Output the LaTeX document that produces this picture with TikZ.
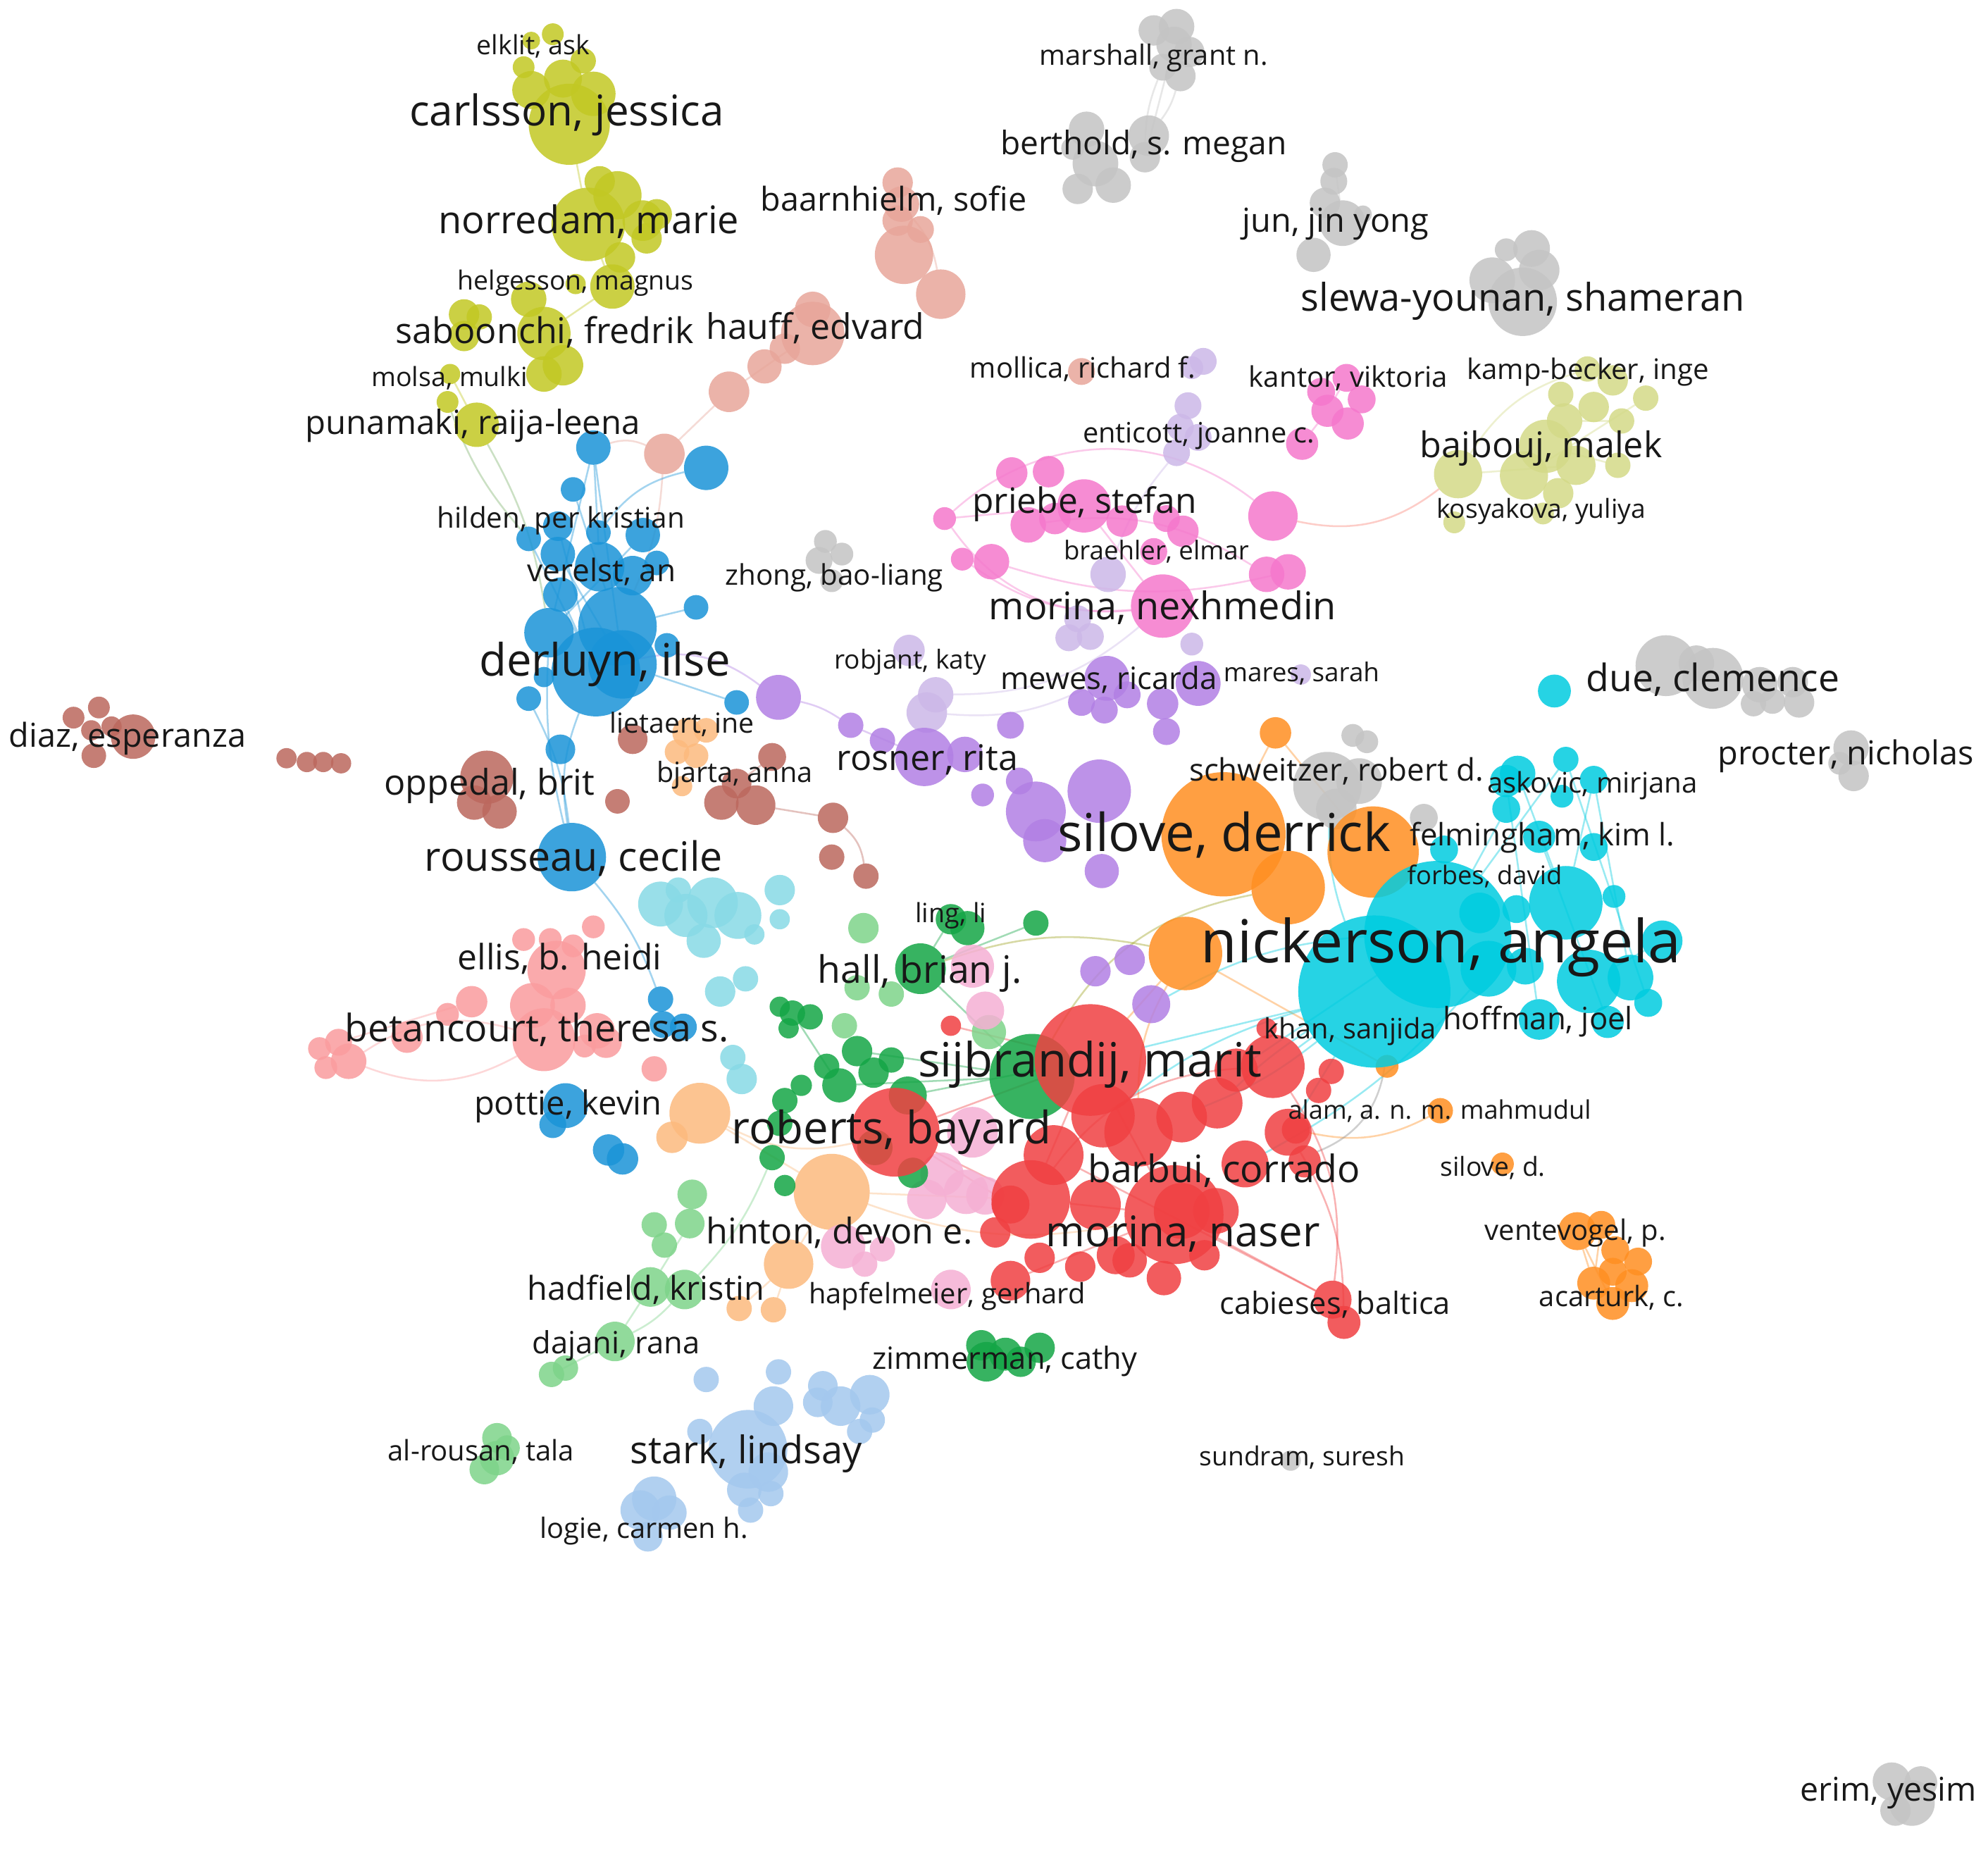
\documentclass[tikz,border=0pt]{standalone}
\usepackage{fontspec}
\setmainfont{Open Sans}
\pgfdeclarelayer{bg}
\pgfsetlayers{bg,main}
\definecolor{cRed}{RGB}{240,64,66}
\definecolor{cGreen}{RGB}{20,166,70}
\definecolor{cBlue}{RGB}{26,148,216}
\definecolor{cYel}{RGB}{194,200,36}
\definecolor{cPur}{RGB}{178,128,228}
\definecolor{cCyan}{RGB}{0,204,224}
\definecolor{cOra}{RGB}{255,143,34}
\definecolor{cBrown}{RGB}{188,104,94}
\definecolor{cPink}{RGB}{245,120,204}
\definecolor{cSalm}{RGB}{250,156,158}
\definecolor{cPeach}{RGB}{252,186,126}
\definecolor{cLGreen}{RGB}{126,212,138}
\definecolor{cLBlue}{RGB}{164,200,238}
\definecolor{cLCyan}{RGB}{136,218,230}
\definecolor{cLav}{RGB}{204,184,232}
\definecolor{cBaar}{RGB}{232,166,154}
\definecolor{cLPink}{RGB}{245,176,212}
\definecolor{cPYel}{RGB}{212,218,136}
\definecolor{cGray}{RGB}{196,196,196}
\definecolor{txt}{RGB}{24,24,24}
\newcommand\labtext[2]{%
  \setbox0\hbox{\fontsize{10pt}{12pt}\selectfont #2}%
  \pgfmathsetmacro\labF{10*#1/\the\wd0}%
  \raisebox{-0.28\dimexpr\labF pt\relax}{\fontsize{\labF pt}{\labF pt}\selectfont #2}}
\newcommand\lab[5]{%
  \node[lbl, anchor=base] (#1) at (#2,#3) {\labtext{#4}{#5}};}
\tikzset{
  bub/.style={circle, inner sep=0pt, outer sep=0pt, draw=none, fill opacity=0.85},
  lbl/.style={inner sep=0pt, text=txt},
  lnk/.style={line width=1.4pt, draw opacity=0.4}
}
\begin{document}
\begin{tikzpicture}[x=1pt,y=-1pt]
\useasboundingbox (0,0) rectangle (1568,1459);
\begin{pgfonlayer}{bg}
\fill[white] (0,0) rectangle (1568,1459);
\end{pgfonlayer}

% ---------------- bubbles ----------------
\foreach \n/\x/\y/\r in {Y1/436/27/8.6,Y2/419/32/7,Y3/460/48/10,Y4/413/53/8.6,Y5/444/62/15,Y6/419/71/15,Y7/468/74/17.5,Y8/449/98/32,Y9/473/143/12,Y10/487/154/19,Y11/464/177/29,Y12/507/174/16,Y13/518/169/12,Y14/510/188/12,Y15/489/203/12,Y16/483/226/17.5,Y17/454/224/8,Y18/417/236/14,Y19/366/248/12,Y20/378/250/10,Y21/366/265/12,Y22/429/263/21,Y23/444/288/16,Y24/429/295/14,Y25/355/295/8,Y26/353/317/8.6,Y27/376/335/17.5}
  \node[bub, fill=cYel, minimum size={2*\r*1pt}] (\n) at (\x,\y) {};
\foreach \n/\x/\y/\r in {S1/708/144/12,S2/711/161/14,S3/708/174/12,S4/726/181/10.6,S5/713/201/23,S6/742/232/19.5,S7/641/244/14,S8/641/263/25,S9/619/275/12,S10/603/289/13.5,S11/575/309/16,S12/524/358/16,S13/853/293/10.6}
  \node[bub, fill=cBaar, minimum size={2*\r*1pt}] (\n) at (\x,\y) {};
\foreach \n/\x/\y/\r in {G1/910/24/12,G2/928/21/14,G3/926/35/14,G4/938/41/12,G5/917/53/10.6,G6/931/60/12,G7/857/102/14,G8/906/107/16,G9/846/117/9,G10/864/129/18,G11/878/146/14,G12/850/149/12,G13/903/124/12,G14/1053/130/10,G15/1052/143/10.6,G16/1045/160/12,G17/1059/176/18,G18/1036/201/13.5,G19/1075/169/7,G20/1208/196/14.5,G21/1188/197/9,G22/1214/213/16,G23/1177/221/18,G24/1201/238/27,G25/651/427/9,G26/664/437/9,G27/646/442/10.6,G28/656/458/9,G29/1314/525/24,G30/1351/535/24,G31/1338/523/14,G32/1388/540/14,G33/1414/538/12,G34/1419/554/12,G35/1383/555/10,G36/1398/553/10,G37/1460/590/14,G38/1462/612/12,G39/1451/602/9,G40/1067/580/9,G41/1078/585/9,G42/1047/620/27,G43/1072/616/18,G44/1054/638/16,G45/1123/645/11,G46/1018/1152/8,G47/1492/1405/15,G48/1508/1422/18,G49/1515/1406/13,G50/1495/1428/12}
  \node[bub, fill=cGray, minimum size={2*\r*1pt}] (\n) at (\x,\y) {};
\foreach \n/\x/\y/\r in {K1/1042/309/11,K2/1062/298/11,K3/1074/315/11,K4/1047/324/12.7,K5/1063/334/12.7,K6/1027/350/12.7,P1/798/373/12.4,P2/827/372/12.4,P3/855/399/21,P4/811/414/14,P5/832/409/12.4,P6/745/409/9,P7/759/441/9,P8/782/443/14,P9/885/411/12.4,P10/920/409/10.6,P11/933/419/12.4,P12/910/435/10.6,P13/1004/407/19.5,P14/999/453/14,P15/1016/451/14,P16/917/478/25}
  \node[bub, fill=cPink, minimum size={2*\r*1pt}] (\n) at (\x,\y) {};
\foreach \n/\x/\y/\r in {L1/949/285/10.6,L2/940/290/9,L3/937/320/10.6,L4/931/337/10.6,L5/945/345/10.6,L6/928/357/10.6,L7/874/453/14,L8/850/488/10.6,L9/843/503/10.6,L10/860/502/10.6,L11/940/508/9,L12/717/513/12.4,L13/738/548/14,L14/731/562/16,L15/1026/532/8}
  \node[bub, fill=cLav, minimum size={2*\r*1pt}] (\n) at (\x,\y) {};
\foreach \n/\x/\y/\r in {U1/873/535/17.7,U2/853/554/10.6,U3/871/560/10.6,U4/889/548/10.6,U5/945/539/17.7,U6/917/555/12.4,U7/920/577/10.6,U8/797/572/10.6,U9/614/550/17.7,U10/671/572/10,U11/696/584/10,U12/729/597/23,U13/761/595/14,U14/867/624/25,U15/804/616/10.6,U16/775/627/9,U17/817/640/23.6,U18/824/663/17,U19/869/687/13.5,U20/864/766/12,U21/891/757/12,U22/908/792/15}
  \node[bub, fill=cPur, minimum size={2*\r*1pt}] (\n) at (\x,\y) {};
\foreach \n/\x/\y/\r in {B1/1252/291/10,B2/1272/300/12,B3/1231/311/10,B4/1257/321/12,B5/1298/314/10,B6/1279/332/10,B7/1234/332/14,B8/1219/352/21,B9/1150/374/19,B10/1202/375/19,B11/1243/367/15.5,B12/1276/367/10,B13/1229/389/12,B14/1147/412/8.6,B15/1217/405/8.6}
  \node[bub, fill=cPYel, minimum size={2*\r*1pt}] (\n) at (\x,\y) {};
\foreach \n/\x/\y/\r in {D1/468/353/13.6,D2/557/369/17.5,D3/452/386/9.7,D4/417/425/9.7,D5/440/415/11.7,D6/472/420/9.7,D7/507/422/13.6,D8/440/437/13.6,D9/473/447/19.5,D10/499/454/15.6,D11/518/444/9.7,D12/442/469/13.6,D13/549/479/9.7,D14/433/499/19.5,D15/487/494/31,D16/491/524/27,D17/470/530/35,D18/526/509/9.7,D19/417/551/9.7,D20/581/554/9.7,D21/442/591/11.7,D22/451/676/27,D23/429/534/8,D25/521/788/10,D26/523/808/10.6,D27/539/810/10.6,D28/446/872/17.7,D29/436/887/10.6,D30/480/907/12.4,D31/491/914/12.4}
  \node[bub, fill=cBlue, minimum size={2*\r*1pt}] (\n) at (\x,\y) {};
\foreach \n/\x/\y/\r in {R1/78/558/8.6,R2/58/566/8.6,R3/72/576/8,R4/105/581/17.5,R5/74/596/9.7,R6/88/573/8,R7/226/598/8,R8/242/601/8,R9/255/601/8,R10/269/602/8,R11/384/613/21,R12/374/633/13.6,R13/394/640/13.6,R14/487/632/9.7,R15/499/583/11.7,R16/581/618/11.7,R17/569/633/13.6,R18/596/635/15.6,R19/609/597/11,R22/657/645/12,R23/656/676/10,R24/683/691/10}
  \node[bub, fill=cBrown, minimum size={2*\r*1pt}] (\n) at (\x,\y) {};
\foreach \n/\x/\y/\r in {O1/542/578/11.7,O2/557/576/9.7,O3/534/593/9.7,O4/549/596/9.7,O5/538/620/8,O6/552/878/24,O7/530/897/12.4,O8/656/940/30,O9/622/997/19.5,O10/583/1032/10,O11/610/1033/10}
  \node[bub, fill=cPeach, minimum size={2*\r*1pt}] (\n) at (\x,\y) {};
\foreach \n/\x/\y/\r in {C1/562/712/20,C2/541/722/17,C3/582/722/18.5,C4/615/702/12,C5/615/725/8,C6/595/737/8,C7/555/742/13.5,C8/535/702/10,C9/588/772/10,C10/568/782/12,C11/578/834/10,C12/585/851/12,C13/521/713/17.7}
  \node[bub, fill=cLCyan, minimum size={2*\r*1pt}] (\n) at (\x,\y) {};
\foreach \n/\x/\y/\r in {E1/468/731/9,E2/413/741/9,E3/434/741/9,E4/452/746/9,E5/439/765/23,E6/372/790/12.4,E7/353/800/9,E8/420/793/17.7,E9/448/793/14,E10/429/820/24.8,E11/471/813/14,E12/461/825/9,E13/478/822/12.4,E14/321/818/12.4,E15/267/822/10.6,E16/252/827/9,E17/257/842/9,E18/275/837/14,E19/516/843/10}
  \node[bub, fill=cSalm, minimum size={2*\r*1pt}] (\n) at (\x,\y) {};
\foreach \n/\x/\y/\r in {M1/681/732/12,M2/676/779/10,M3/703/784/10,M4/666/809/10,M5/780/814/13.5,M6/546/942/11.7,M7/544/965/11.7,M8/516/966/10,M9/524/982/10,M10/513/1015/15.6,M11/540/1017/15.6,M12/485/1058/15.6,M13/435/1084/10,M14/446/1079/10,M15/392/1134/11.7,M16/392/1150/13.6,M17/382/1159/11.7,M18/400/1142/10}
  \node[bub, fill=cLGreen, minimum size={2*\r*1pt}] (\n) at (\x,\y) {};
\foreach \n/\x/\y/\r in {A1/557/1088/10,A2/614/1082/10,A3/610/1109/15.6,A4/649/1093/11.7,A5/645/1106/11.7,A6/663/1109/15.6,A7/686/1100/15.6,A8/688/1120/10,A9/678/1129/10,A10/552/1129/10,A11/590/1143/31,A12/606/1161/15.6,A13/587/1175/13.6,A14/608/1178/10,A15/592/1191/10,A16/516/1182/17.5,A17/505/1191/15.6,A18/528/1193/13.6,A19/511/1212/11.7}
  \node[bub, fill=cLBlue, minimum size={2*\r*1pt}] (\n) at (\x,\y) {};
\foreach \n/\x/\y/\r in {H1/767/762/17,H2/777/797/15,H3/767/893/20,H4/743/926/17,H5/777/943/15,H6/665/983/17.5,H7/682/997/10,H8/696/985/10,H9/750/1017/15.6,H10/731/946/15.6,H11/762/940/17.5}
  \node[bub, fill=cLPink, minimum size={2*\r*1pt}] (\n) at (\x,\y) {};
\foreach \n/\x/\y/\r in {N1/750/725/12,N2/763/732/13.5,N3/817/728/10,N4/726/764/20,N5/625/799/10,N6/615/794/8,N7/639/802/10,N8/622/811/8,N9/676/829/12,N10/652/841/10,N11/632/856/8.4,N12/662/856/13.5,N13/689/846/12,N14/703/836/10,N15/619/868/10,N16/615/886/10,N17/609/913/10,N18/619/935/8.4,N19/814/849/33.6,N20/716/864/15,N26/690/905/14,N27/720/925/12,N21/778/1074/15.6,N22/793/1068/13,N23/805/1074/12,N24/820/1063/12,N25/774/1061/12}
  \node[bub, fill=cGreen, minimum size={2*\r*1pt}] (\n) at (\x,\y) {};
\foreach \n/\x/\y/\r in {X1/860/836/44,X2/706/893/35,X3/750/809/8,X4/999/811/8,X5/975/844/17,X6/898/893/27,X7/932/881/20,X8/831/911/23.6,X9/864/950/20,X10/932/955/22,X11/982/918/18.5,X12/1016/893/18.5,X13/959/955/18,X14/797/950/15,X15/785/972/12,X16/797/1010/15.6,X17/820/992/12,X18/852/999/12,X19/891/994/13.6,X20/918/1008/13.6,X21/813/946/31,X22/926/958/39,X23/1004/841/25,X24/1022/891/11,X25/1029/916/12.7,X26/1051/1025/15,X27/1060/1043/13,X28/960/870/20,X29/870/880/25,X30/1040/860/10,X31/880/990/15,X32/950/990/12,X33/1050/845/10}
  \node[bub, fill=cRed, minimum size={2*\r*1pt}] (\n) at (\x,\y) {};
\foreach \n/\x/\y/\r in {Q1/965/658/49,Q2/1016/700/29,Q3/935/752/29,Q4/1006/578/12.4,Q5/1083/672/36,Q6/1094/841/9,Q7/1136/876/10,Q8/1185/918/9,Q9/1244/971/15,Q10/1263/966/11,Q11/1274/986/11,Q12/1292/995/11,Q13/1272/1003/11,Q14/1257/1012/13,Q15/1287/1014/13,Q16/1272/1028/13}
  \node[bub, fill=cOra, minimum size={2*\r*1pt}] (\n) at (\x,\y) {};
\foreach \n/\x/\y/\r in {Z1/1084/782/60,Z2/1134/737/58,Z3/1235/712/29,Z4/1174/764/22,Z5/1203/762/14.5,Z6/1253/774/25,Z7/1286/771/18,Z8/1311/742/16,Z9/1300/791/11,Z10/1214/804/16,Z11/1268/806/12.7,Z12/1188/616/12.7,Z13/1235/599/10,Z14/1257/615/11,Z15/1232/628/9,Z16/1188/638/11,Z17/1214/660/12.7,Z18/1257/668/11,Z19/1139/670/11,Z20/1273/707/9,Z21/1196/717/11,Z22/1167/720/16,Z23/1226/545/13,Z24/1197/610/14}
  \node[bub, fill=cCyan, minimum size={2*\r*1pt}] (\n) at (\x,\y) {};

% ---------------- links ----------------
\begin{pgfonlayer}{bg}
\draw[lnk, cYel] (Y8) -- (Y11);
\draw[lnk, cYel] (Y11) -- (Y16);
\draw[lnk, cYel] (Y16) -- (Y22);
\draw[lnk, cYel] (Y22) -- (Y24);
\draw[lnk, cYel] (Y25) -- (Y27);
\draw[lnk, cYel!60!cBlue] (Y27) to[bend left=10] (D14);
\draw[lnk, cYel!60!cBlue] (Y26) to[bend right=10] (D4);
\draw[lnk, cGray] (G5) to[bend right=10] (G13);
\draw[lnk, cGray] (G6) to[bend left=10] (G8);
\draw[lnk, cGray] (G3) to (G13);
\draw[lnk, cGray] (G14) -- (G17);
\draw[lnk, cBaar] (S5) -- (S6);
\draw[lnk, cBaar] (S2) to[bend left=15] (S6);
\draw[lnk, cBaar] (S8) -- (S11);
\draw[lnk, cBaar] (S11) -- (S12);
\draw[lnk, cBaar] (S12) to[bend left=10] (D15);
\draw[lnk, cBaar] (S12) to[bend right=20] (D1);
\draw[lnk, cBlue] (D1) -- (D14);
\draw[lnk, cBlue] (D1) -- (D9);
\draw[lnk, cBlue] (D1) -- (D16);
\draw[lnk, cBlue] (D3) -- (D15);
\draw[lnk, cBlue] (D5) -- (D17);
\draw[lnk, cBlue] (D8) -- (D16);
\draw[lnk, cBlue] (D12) -- (D17);
\draw[lnk, cBlue] (D13) -- (D15);
\draw[lnk, cBlue] (D20) -- (D16);
\draw[lnk, cBlue] (D7) -- (D14);
\draw[lnk, cBlue] (D4) -- (D17);
\draw[lnk, cBlue] (D2) to[bend right=20] (D6);
\draw[lnk, cBlue] (D17) to[bend right=15] (D22);
\draw[lnk, cBlue] (D19) to[bend left=10] (D22);
\draw[lnk, cBlue] (D22) to[bend left=10] (D25);
\draw[lnk, cBlue] (D14) to[bend right=8] (D22);
\draw[lnk, cPur] (D17) to[bend left=25] (U9);
\draw[lnk, cPur] (U9) to[bend left=10] (U10);
\draw[lnk, cPur] (U10) -- (U12);
\draw[lnk, cPur] (U12) -- (U13);
\draw[lnk, cLav] (L13) to[bend right=20] (P16);
\draw[lnk, cLav] (L6) to[bend right=10] (L7);
\draw[lnk, cLav] (L14) to[bend right=15] (U1);
\draw[lnk, cPink] (P6) to[bend left=40] (P13);
\draw[lnk, cPink] (P6) to[bend right=30] (P16);
\draw[lnk, cPink] (P7) to[bend right=20] (P16);
\draw[lnk, cPink] (P8) to[bend right=15] (P15);
\draw[lnk, cPink] (P4) to[bend left=20] (P14);
\draw[lnk, cPink] (P3) -- (P16);
\draw[lnk, cPink] (P6) -- (P3);
\draw[lnk, cPink!50!cOra] (P13) to[bend right=25] (B9);
\draw[lnk, cPink] (K6) -- (K4);
\draw[lnk, cPink] (K4) -- (K2);
\draw[lnk, cPYel] (B9) to[bend left=20] (B1);
\draw[lnk, cPYel] (B9) -- (B11);
\draw[lnk, cPYel] (B10) -- (B5);
\draw[lnk, cPYel] (B8) -- (B12);
\draw[lnk, cPYel] (B7) -- (B6);
\draw[lnk, cGreen] (N4) -- (N3);
\draw[lnk, cGreen] (N4) -- (N1);
\draw[lnk, cGreen] (N19) -- (N4);
\draw[lnk, cGreen] (N12) -- (N19);
\draw[lnk, cGreen] (N9) -- (N19);
\draw[lnk, cGreen] (N5) -- (N12);
\draw[lnk, cGreen] (N20) -- (X1);
\draw[lnk, cYel!80!black] (N4) to[bend left=15] (Q3);
\draw[lnk, cYel!80!black] (N19) to[bend left=25] (Q2);
\draw[lnk, cOra] (Q1) -- (Q4);
\draw[lnk, cOra] (Q5) -- (Q4);
\draw[lnk, cOra] (X24) to[bend right=20] (Q7);
\draw[lnk, cOra] (Q6) -- (Q3);
\draw[lnk, cOra] (Q9) -- (Q16);
\draw[lnk, cOra] (Q10) -- (Q14);
\draw[lnk, cOra] (Q9) -- (Q14);
\draw[lnk, cOra] (Q3) -- (X1);
\draw[lnk, cOra] (Q3) to[bend right=15] (X6);
\draw[lnk, cCyan] (Z1) -- (X1);
\draw[lnk, cCyan] (Z1) -- (X23);
\draw[lnk, cCyan] (Z2) -- (X5);
\draw[lnk, cCyan] (Z1) -- (X12);
\draw[lnk, cCyan] (Z4) to[bend left=10] (X11);
\draw[lnk, cCyan] (Z1) to[bend right=10] (X29);
\draw[lnk, cCyan] (Z1) to[bend right=5] (X28);
\draw[lnk, cCyan] (Z1) to[bend left=8] (X7);
\draw[lnk, cCyan] (Z2) to[bend right=12] (U22);
\draw[lnk, cCyan] (Z2) -- (Z13);
\draw[lnk, cCyan] (Z2) -- (Z16);
\draw[lnk, cCyan] (Z3) -- (Z14);
\draw[lnk, cCyan] (Z6) -- (Z8);
\draw[lnk, cCyan] (Z24) -- (Z3);
\draw[lnk, cCyan] (Z12) -- (Z10);
\draw[lnk, cCyan] (Z17) -- (Z11);
\draw[lnk, cCyan] (Z13) -- (Z9);
\draw[lnk, cCyan] (Z14) -- (Z7);
\draw[lnk, cCyan] (Z1) to[bend left=10] (G42);
\draw[lnk, cGray!70!black] (Z1) to[bend left=30] (X25);
\draw[lnk, cRed] (X1) -- (X22);
\draw[lnk, cRed] (X1) -- (X21);
\draw[lnk, cRed] (X21) -- (X22);
\draw[lnk, cRed] (X6) -- (X22);
\draw[lnk, cRed] (X2) -- (X21);
\draw[lnk, cRed] (X8) -- (X26);
\draw[lnk, cRed] (X22) -- (X26);
\draw[lnk, cRed] (X2) -- (X14);
\draw[lnk, cRed] (X16) -- (X22);
\draw[lnk, cRed] (X2) -- (X1);
\draw[lnk, cRed] (X3) -- (X1);
\draw[lnk, cRed] (X23) to[bend left=20] (X26);
\draw[lnk, cRed] (X12) to[bend left=15] (X27);
\draw[lnk, cRed] (X23) to[bend right=25] (X21);
\draw[lnk, cPeach] (O8) -- (O9);
\draw[lnk, cPeach] (O9) -- (O11);
\draw[lnk, cPeach] (O9) -- (O10);
\draw[lnk, cPeach] (O8) -- (X21);
\draw[lnk, cPeach] (O6) -- (O8);
\draw[lnk, cPeach] (O6) to[bend right=20] (X2);
\draw[lnk, cPeach] (O8) to[bend right=15] (X22);
\draw[lnk, cLGreen] (M10) -- (M12);
\draw[lnk, cLGreen] (M12) -- (M13);
\draw[lnk, cLGreen] (M7) -- (M10);
\draw[lnk, cLGreen] (M11) to[bend right=10] (N17);
\draw[lnk, cLGreen] (M11) to[bend left=10] (M12);
\draw[lnk, cSalm] (E18) to[bend left=25] (E10);
\draw[lnk, cSalm] (E18) to[bend right=25] (E10);
\draw[lnk, cSalm] (E15) -- (E6);
\draw[lnk, cBrown] (R18) -- (R22);
\draw[lnk, cBrown] (R22) to[bend left=20] (R24);
\draw[lnk, cBrown] (R16) -- (R19);
\end{pgfonlayer}

% ---------------- labels ----------------
\lab{t1}{420.5}{37}{89}{elklit, ask}
\lab{t2}{447}{90}{248}{carlsson, jessica}
\lab{t3}{910}{45}{180}{marshall, grant n.}
\lab{t4}{902}{115}{226}{berthold, s. megan}
\lab{t5}{705}{159}{210}{baarnhielm, sofie}
\lab{t6}{464.5}{176}{237}{norredam, marie}
\lab{t7}{1053.5}{176}{147}{jun, jin yong}
\lab{t8}{454}{223}{186}{helgesson, magnus}
\lab{t9}{1201}{237}{350}{slewa-younan, shameran}
\lab{t10}{429.5}{263}{235}{saboonchi, fredrik}
\lab{t11}{643}{260}{172}{hauff, edvard}
\lab{t12}{854}{292}{178}{mollica, richard f.}
\lab{t13}{1063.5}{299}{157}{kantor, viktoria}
\lab{t14}{1252.5}{293}{191}{kamp-becker, inge}
\lab{t15}{354.5}{299}{123}{molsa, mulki}
\lab{t16}{373}{335}{264}{punamaki, raija-leena}
\lab{t17}{945.5}{343}{183}{enticott, joanne c.}
\lab{t18}{1215.5}{353}{191}{bajbouj, malek}
\lab{t19}{855.5}{397}{177}{priebe, stefan}
\lab{t20}{1215.5}{403}{165}{kosyakova, yuliya}
\lab{t21}{442.5}{410}{195}{hilden, per kristian}
\lab{t22}{912}{436}{146}{braehler, elmar}
\lab{t23}{474.5}{452}{117}{verelst, an}
\lab{t24}{658}{455}{172}{zhong, bao-liang}
\lab{t25}{917}{480}{274}{morina, nexhmedin}
\lab{t26}{477}{523}{198}{derluyn, ilse}
\lab{t27}{718}{522}{120}{robjant, katy}
\lab{t28}{874.5}{537}{171}{mewes, ricarda}
\lab{t29}{1026.5}{532}{123}{mares, sarah}
\lab{t30}{1351}{537}{200}{due, clemence}
\lab{t31}{100.5}{582}{187}{diaz, esperanza}
\lab{t32}{538}{572}{114}{lietaert, ine}
\lab{t33}{731.5}{600}{143}{rosner, rita}
\lab{t34}{1054}{609}{232}{schweitzer, robert d.}
\lab{t35}{1456}{596}{202}{procter, nicholas}
\lab{t36}{1256}{619}{166}{askovic, mirjana}
\lab{t37}{386}{619}{166}{oppedal, brit}
\lab{t38}{579.5}{611}{123}{bjarta, anna}
\lab{t39}{965.5}{660}{263}{silove, derrick}
\lab{t40}{1216.5}{660}{209}{felmingham, kim l.}
\lab{t41}{452.5}{678}{235}{rousseau, cecile}
\lab{t42}{1171}{692}{122}{forbes, david}
\lab{t43}{750}{722}{56}{ling, li}
\lab{t44}{1136.5}{746}{379}{nickerson, angela}
\lab{t45}{441.5}{757}{161}{ellis, b. heidi}
\lab{t46}{725.5}{767}{161}{hall, brian j.}
\lab{t47}{423.5}{813}{303}{betancourt, theresa s.}
\lab{t48}{1065}{813}{136}{khan, sanjida}
\lab{t49}{1213}{805}{150}{hoffman, joel}
\lab{t50}{859.5}{839}{271}{sijbrandij, marit}
\lab{t51}{448}{872}{148}{pottie, kevin}
\lab{t52}{1135.5}{877}{239}{alam, a. n. m. mahmudul}
\lab{t53}{703}{892}{252}{roberts, bayard}
\lab{t54}{965.5}{924}{215}{barbui, corrado}
\lab{t55}{1177.5}{922}{83}{silove, d.}
\lab{t56}{662}{973}{210}{hinton, devon e.}
\lab{t57}{933}{974}{216}{morina, naser}
\lab{t58}{1242.5}{972}{143}{ventevogel, p.}
\lab{t59}{509.5}{1018}{187}{hadfield, kristin}
\lab{t60}{747}{1022}{218}{hapfelmeier, gerhard}
\lab{t61}{1053}{1030}{182}{cabieses, baltica}
\lab{t62}{1271}{1024}{114}{acarturk, c.}
\lab{t63}{486}{1061}{132}{dajani, rana}
\lab{t64}{792.5}{1073}{209}{zimmerman, cathy}
\lab{t65}{379.5}{1146}{147}{al-rousan, tala}
\lab{t66}{588.5}{1146}{183}{stark, lindsay}
\lab{t67}{508}{1207}{164}{logie, carmen h.}
\lab{t68}{1027}{1150}{162}{sundram, suresh}
\lab{t69}{1489.5}{1413}{139}{erim, yesim}
\end{tikzpicture}
\end{document}
